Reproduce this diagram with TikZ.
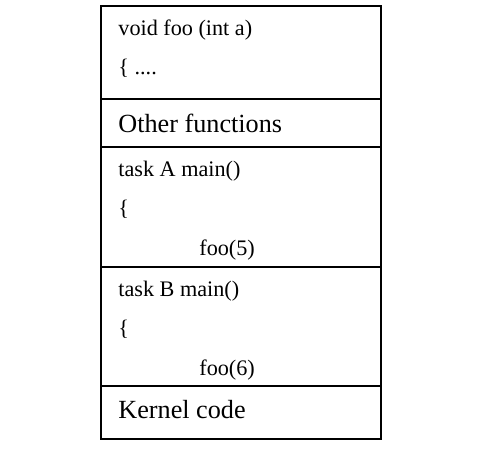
\documentclass[tikz,border=0pt]{standalone}
\usepackage{fontspec}
\setmainfont{Liberation Serif}
\usetikzlibrary{positioning}

\begin{document}
\begin{tikzpicture}[
  x=0.5pt,y=-0.5pt,node distance=0pt,
  part/.style={draw,line width=0.9pt,minimum width=140pt,inner sep=0pt,
    outer sep=0pt},
  code/.style={font=\fontsize{11.1}{13}\selectfont,anchor=base west,
    inner sep=0pt},
  big/.style={font=\fontsize{13.1}{15}\selectfont,anchor=base west,
    inner sep=0pt}]
\useasboundingbox (0,0) rectangle (488,450);
% memory layout, top to bottom
\node[part,minimum height=46.5pt,anchor=north west] (foo) at (101,6) {};
\node[part,minimum height=24pt,below=of foo] (other) {};
\node[part,minimum height=60pt,below=of other] (taskA) {};
\node[part,minimum height=59.5pt,below=of taskA] (taskB) {};
\node[part,minimum height=26.5pt,below=of taskB] (kernel) {};
% texts
\node[code] (fooHead) at (118,35) {void foo (int a)};
\node[code] (fooBody) at (118,74) {\{ ....};
\node[big] (otherText) at (118,132) {Other functions};
\node[code] (taskAHead) at (118,176) {task A main()};
\node[code] (taskABrace) at (118,215) {\{};
\node[code] (taskACall) at (199,255) {foo(5)};
\node[code] (taskBHead) at (118,296) {task B main()};
\node[code] (taskBBrace) at (118,335) {\{};
\node[code] (taskBCall) at (199,375) {foo(6)};
\node[big] (kernelText) at (118,418) {Kernel code};
\end{tikzpicture}
\end{document}
